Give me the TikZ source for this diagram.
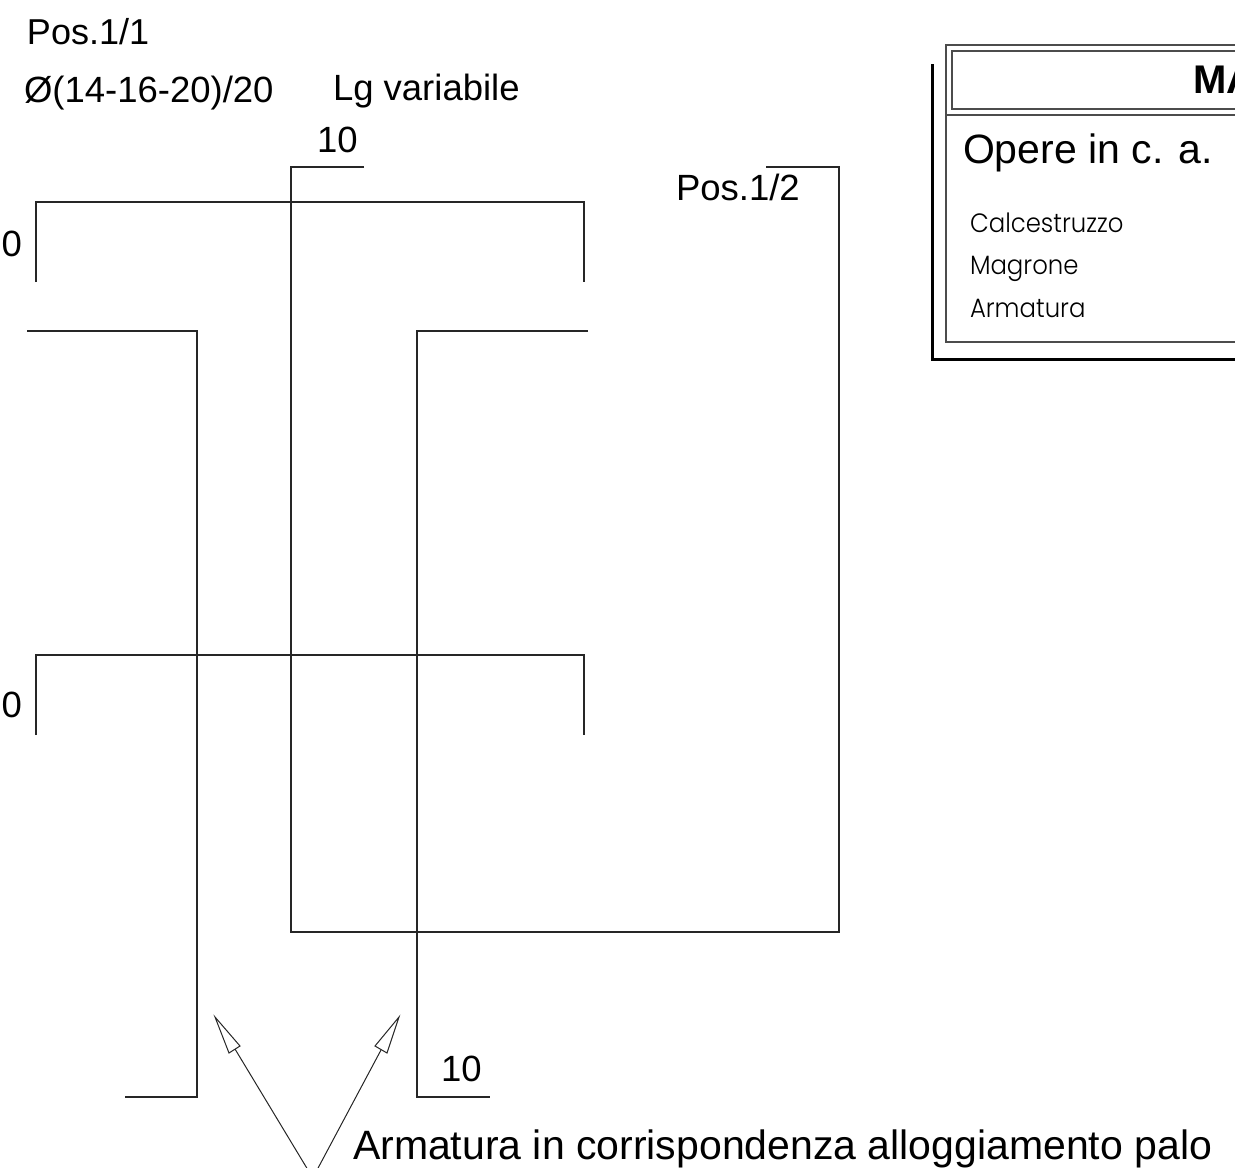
\documentclass[tikz,border=0pt]{standalone}
\usepackage{fontspec}
\setmainfont{Liberation Sans}
\newfontfamily\geofont[FakeStretch=0.92]{Poppins Light}
\tikzset{
  bar/.style={draw=black!85,line width=1.8pt,line join=miter},
  frameline/.style={draw=black!70,line width=1.2pt},
  shadowline/.style={draw=black,line width=3pt},
  lbl/.style={anchor=base west,inner sep=0pt,outer sep=0pt,font=\fontsize{36.5}{42}\selectfont},
  lblbig/.style={lbl,font=\fontsize{41}{46}\selectfont},
  lblbold/.style={lbl,font=\fontsize{40}{46}\selectfont\bfseries},
  lblgeo/.style={lbl,font=\fontsize{26.5}{32}\geofont},
  leaderline/.style={draw=black!85,line width=1pt},
  openhead/.style={draw=black!85,line width=1pt,fill=white,line join=miter}
}
\begin{document}
\begin{tikzpicture}[x=1pt,y=-1pt]
\useasboundingbox (0,0) rectangle (1235,1168);
\clip (0,0) rectangle (1235,1168);
% reinforcement bars
\draw[bar] (36,282) -- (36,202) -- (584,202) -- (584,282);
\draw[bar] (27,331.2) -- (197.2,331.2) -- (197.2,1097) -- (125,1097);
\draw[bar] (588,331.2) -- (417,331.2) -- (417,1097) -- (490,1097);
\draw[bar] (36,735) -- (36,655) -- (584,655) -- (584,735);
\draw[bar] (364,167) -- (291,167) -- (291,932) -- (839,932) -- (839,167) -- (766,167);
% leaders
\draw[leaderline] (235,1049) -- (308,1170);
\draw[leaderline] (381,1050) -- (317,1170);
\draw[openhead] (215,1017) -- (229,1053) -- (240,1046) -- cycle;
\draw[openhead] (399,1017) -- (375,1046) -- (387,1053) -- cycle;
% table
\draw[frameline] (1240,45) -- (946,45) -- (946,342) -- (1240,342);
\draw[frameline] (1240,51) -- (952,51) -- (952,109) -- (1240,109);
\draw[frameline] (946,115) -- (1240,115);
\draw[shadowline] (932,64) -- (932,359) -- (1240,359);
% labels
\node[lbl,font=\fontsize{36}{42}\selectfont] (p1) at (27,44) {Pos.1/1};
\node[lbl] (p2) at (24,102) {Ø(14-16-20)/20};
\node[lbl] (lg) at (333,100) {Lg variabile};
\node[lbl] (t10) at (317,152) {10};
\node[lbl] (p3) at (676,200.5) {Pos.1/2};
\node[lbl] (b10) at (441,1081) {10};
\node[lbl,anchor=base east] (d1) at (22,256.5) {50};
\node[lbl,anchor=base east] (d2) at (22,717.5) {50};
\node[lblbig] (note) at (353,1159) {Armatura in corrispondenza alloggiamento palo};
\node[lblbold] (ma) at (1193,93.5) {MA};
\node[lblbig] (op) at (963,163) {Opere in c. a.};
\node[lblgeo] (c1) at (970,232) {Calcestruzzo};
\node[lblgeo] (c2) at (970,274) {Magrone};
\node[lblgeo] (c3) at (970,317) {Armatura};
\end{tikzpicture}
\end{document}
